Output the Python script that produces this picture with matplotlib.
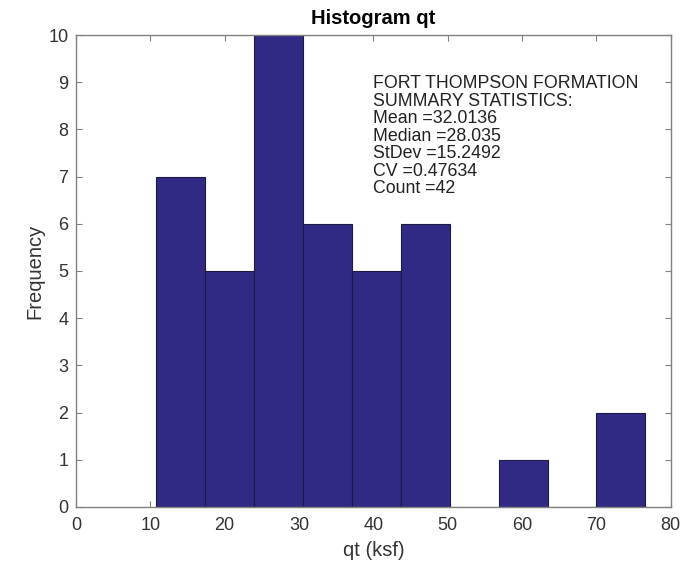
import numpy as np
import matplotlib
matplotlib.use("Agg")
import matplotlib.pyplot as plt

plt.rcParams["font.family"] = ["Liberation Sans", "DejaVu Sans"]

# histogram of qt values (bin edges in ksf, counts per bin)
bin_edges = [10.75, 17.35, 23.95, 30.55, 37.1, 43.7, 50.3, 56.85, 63.45, 70.0, 76.6]
counts = [7, 5, 10, 6, 5, 6, 0, 1, 0, 2]
x_ticks = [0, 10, 20, 30, 40, 50, 60, 70, 80]
y_ticks = list(range(0, 11))
stats_lines = [
	"FORT THOMPSON FORMATION",
	"SUMMARY STATISTICS:",
	"Mean =32.0136",
	"Median =28.035",
	"StDev =15.2492",
	"CV =0.47634",
	"Count =42",
]

fig = plt.figure(figsize=(6.93, 5.62), dpi=100)
ax = fig.add_axes([0.1097, 0.0979, 0.858, 0.8398])

edges = np.array(bin_edges)
ax.bar(edges[:-1], counts, width=np.diff(edges), align="edge",
	color="#312a85", edgecolor="#1c1a40", linewidth=0.8, zorder=2)

ax.set_xlim(0, 80)
ax.set_ylim(0, 10)
ax.set_xticks(x_ticks)
ax.set_yticks(y_ticks)
ax.tick_params(direction="in", top=True, right=True, length=4, width=0.8,
	colors="#808080", labelcolor="#333333", labelsize=13)
ax.tick_params(axis="x", pad=7)
ax.tick_params(axis="y", pad=5.5)
for sp in ax.spines.values():
	sp.set_color("#808080")
	sp.set_linewidth(1.0)

ax.set_xlabel("qt (ksf)", fontsize=14.5, color="#333333", labelpad=5)
ax.set_ylabel("Frequency", fontsize=14.5, color="#333333", labelpad=3)
ax.set_title("Histogram qt", fontsize=14.5, fontweight="bold", pad=8)

ax.text(40.0, 9.15, "\n".join(stats_lines), fontsize=12.8, color="#222222",
	va="top", ha="left", linespacing=1.04, zorder=3)

plt.savefig("out.png", dpi=100)
plt.close(fig)
